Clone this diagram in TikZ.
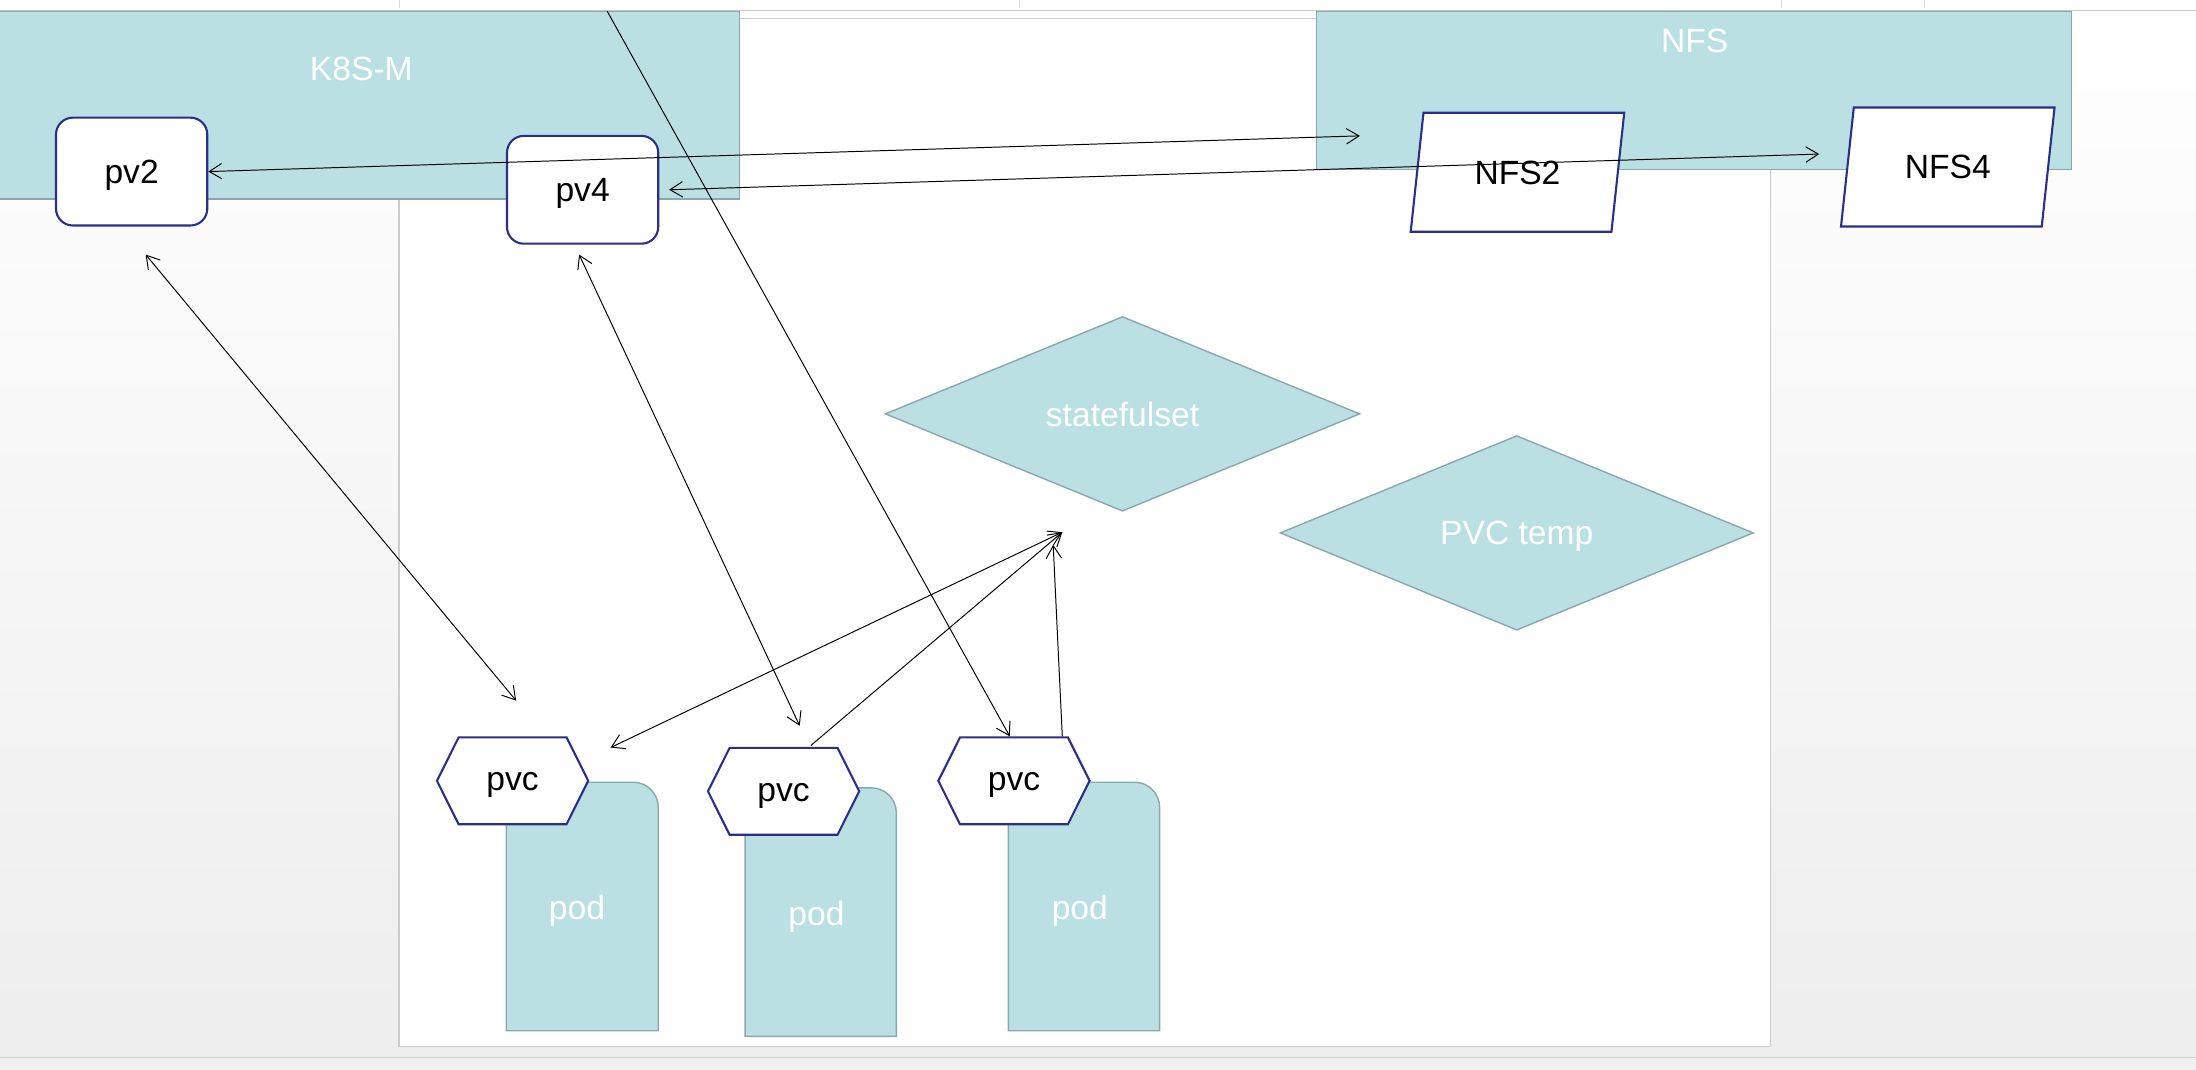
\documentclass[tikz,border=0pt]{standalone}
\usepackage{fontspec}
\setmainfont{Liberation Sans}
\usepackage{xcolor}
\usepackage{tikz}
\usetikzlibrary{shapes.geometric, shapes.symbols, arrows.meta, positioning}

\definecolor{tealfill}{RGB}{187,224,227}
\definecolor{tealline}{RGB}{138,168,171}
\definecolor{navyline}{RGB}{43,47,140}

\begin{document}
\begin{tikzpicture}[
    x=1pt, y=-1pt,
    font=\fontsize{24}{28}\selectfont,
    >={Straight Barb[length=9pt,width=11pt]},
    groupbox/.style={rectangle, draw=tealline, fill=tealfill, line width=1pt, inner sep=0pt},
    grouplabel/.style={text=white, inner sep=0pt},
    pvbox/.style={rectangle, draw=navyline, fill=white, line width=1.5pt, rounded corners=12pt, minimum width=108pt, minimum height=77pt, text depth=0pt, text height=17pt},
    nfsbox/.style={trapezium, trapezium left angle=76, trapezium right angle=104, trapezium stretches=true, draw=navyline, fill=white, line width=1.5pt, minimum width=153pt, minimum height=85pt, inner sep=0pt, text depth=0pt},
    setbox/.style={diamond, draw=tealline, fill=tealfill, line width=1pt, text=white, inner sep=0pt, text depth=0pt},
    pvcbox/.style={signal, signal to=west and east, signal pointer angle=127, draw=navyline, fill=white, line width=1.5pt, minimum width=108pt, minimum height=62pt, inner sep=0pt, text depth=0pt, text height=14pt},
    podshape/.style={draw=tealline, fill=tealfill, line width=1pt},
    podlabel/.style={text=white, inner sep=0pt, text depth=0pt},
    conn/.style={draw=black, line width=0.7pt}
]
\useasboundingbox (0,0) rectangle (1568,764);

% Canvas and page
\fill[top color=white, bottom color=black!7] (0,0) rectangle (1568,764);
\fill[black!6] (0,755) rectangle (1568,764);
\draw[black!18, line width=1pt] (0,755) -- (1568,755);
\draw[fill=white, draw=black!20, line width=1pt] (285,13) rectangle (1264,747);

% Clusters
\node[groupbox, minimum width=530pt, minimum height=134pt] (k8s) at (263,75) {};
\node[grouplabel] (k8s-title) at (258,49) {K8S-M};
\node[groupbox, minimum width=539pt, minimum height=113pt] (nfs) at (1209.5,64.5) {};
\node[grouplabel] (nfs-title) at (1210,29) {NFS};

% Controllers
\node[setbox, minimum width=339pt, minimum height=139pt] (sts) at (801.5,295.5) {statefulset};
\node[setbox, minimum width=338pt, minimum height=139pt] (pvct) at (1083,380.5) {PVC temp};

% Volumes and exports
\node[pvbox] (pv2) at (94,122.5) {pv2};
\node[pvbox] (pv4) at (416,135.5) {pv4};
\node[nfsbox] (nfs2) at (1083.5,123) {NFS2};
\node[nfsbox] (nfs4) at (1390.75,119.25) {NFS4};

% Pods
\draw[podshape] (361.5,736) |- (452,558.5) .. controls (462,558.5) and (470,566.5) .. (470,576.5) -- (470,736) -- cycle;
\node[podlabel] (pod1) at (412,648) {pod};
\draw[podshape] (532,740) |- (622,562.5) .. controls (632,562.5) and (640,570.5) .. (640,580.5) -- (640,740) -- cycle;
\node[podlabel] (pod2) at (583,652) {pod};
\draw[podshape] (720,736) |- (810,558.5) .. controls (820,558.5) and (828,566.5) .. (828,576.5) -- (828,736) -- cycle;
\node[podlabel] (pod3) at (771,648) {pod};

% Claims
\node[pvcbox] (pvc1) at (366,557.5) {pvc};
\node[pvcbox] (pvc2) at (559.5,565) {pvc};
\node[pvcbox] (pvc3) at (724,557.5) {pvc};

% Bindings
\coordinate (nfs2-in) at (971,97);
\coordinate (nfs4-in) at (1299,110);
\coordinate (sts-in) at (758.5,380);
\coordinate (sts-in2) at (752,389);
\coordinate (top-in) at (433,7);
\draw[conn, <->] (pv2.east) -- (nfs2-in);
\draw[conn, <->] ([xshift=7pt]pv4.east) -- (nfs4-in);
\draw[conn, <->] ([shift={(10,20)}]pv2.south) -- ([shift={(2.5,-25.5)}]pvc1.north);
\draw[conn, <->] ([shift={(-2.5,7)}]pv4.south) -- ([shift={(11.5,-15)}]pvc2.north);
\draw[conn, ->] (top-in) -- ([xshift=-3pt]pvc3.north);
\draw[conn, <->] ([shift={(70,8)}]pvc1.north) -- (sts-in);
\draw[conn, ->] ([shift={(19.5,-1)}]pvc2.north) -- (sts-in);
\draw[conn, ->] ([xshift=34.5pt]pvc3.north) -- (sts-in2);

% Toolbar strip
\fill[white] (0,0) rectangle (1568,7.5);
\draw[black!22, line width=1pt] (0,7.5) -- (1568,7.5);
\foreach \sx in {285,728,1272,1374} \draw[black!15] (\sx,0) -- (\sx,6);

\end{tikzpicture}
\end{document}
